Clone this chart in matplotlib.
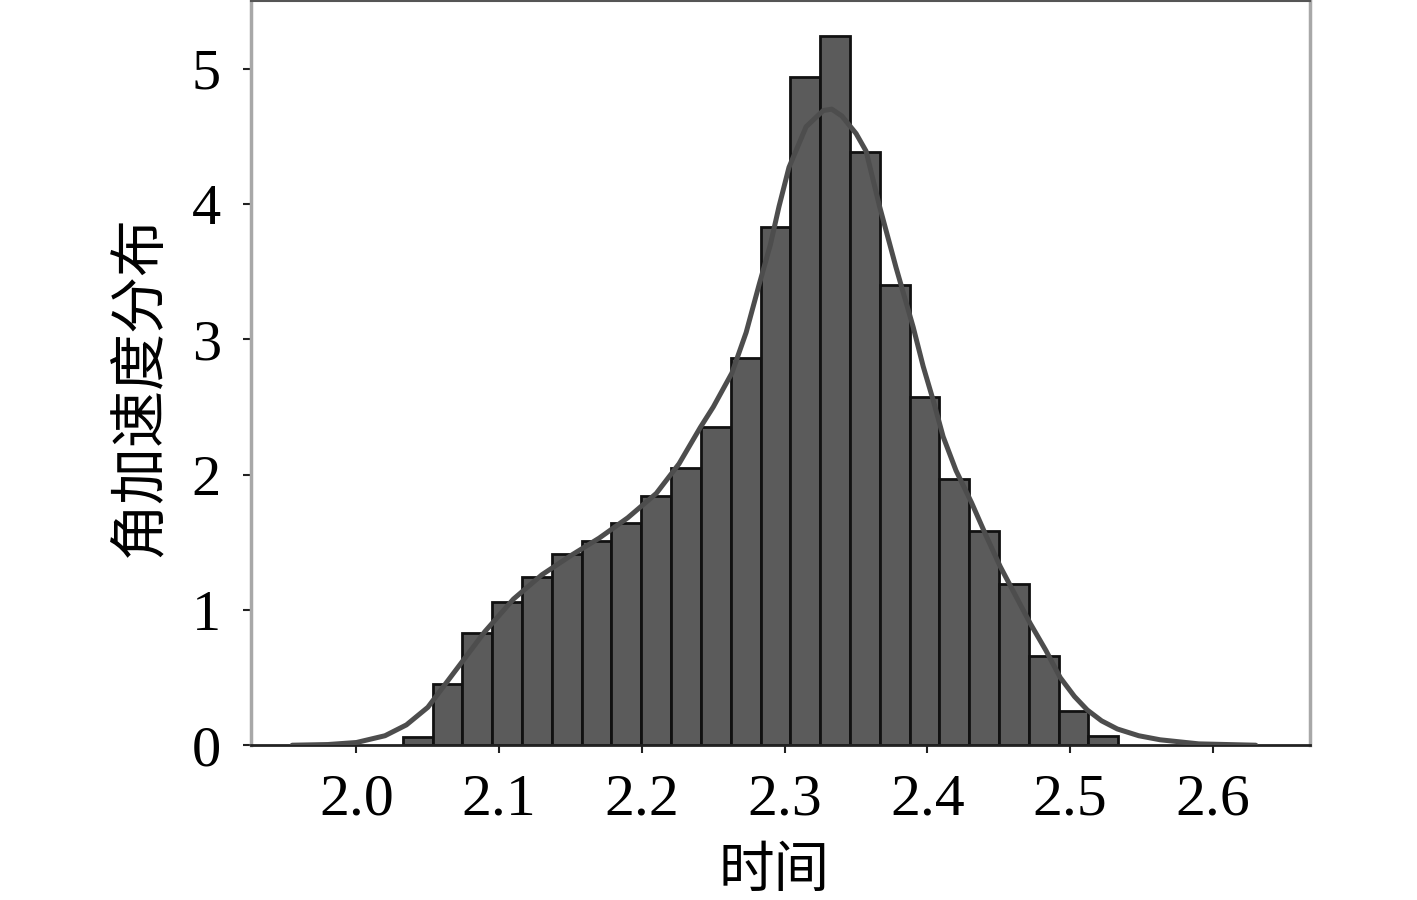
import matplotlib

matplotlib.use("Agg", force=True)
import matplotlib.pyplot as plt
import numpy as np

plt.rcParams["font.family"] = ["Liberation Serif", "Noto Sans CJK SC", "DejaVu Sans"]

# Histogram: left edge of first bin, bin width, bar heights (density)
bin_start = 2.0325
bin_width = 0.02088
bar_heights = [0.06, 0.45, 0.83, 1.06, 1.24, 1.41, 1.51, 1.64, 1.84, 2.05,
               2.35, 2.86, 3.83, 4.94, 5.24, 4.38, 3.40, 2.57, 1.97, 1.58,
               1.19, 0.66, 0.25, 0.07]

# Density curve
curve_x = [1.955, 1.98, 2.00, 2.02, 2.035, 2.05, 2.07, 2.09, 2.11, 2.13,
           2.15, 2.17, 2.19, 2.21, 2.226, 2.241, 2.25, 2.263, 2.273, 2.282,
           2.29, 2.296, 2.303, 2.315, 2.327, 2.333, 2.34, 2.35, 2.357, 2.3665,
           2.378, 2.39, 2.397, 2.404, 2.411, 2.42, 2.431, 2.441, 2.451, 2.462,
           2.472, 2.483, 2.493, 2.503, 2.512, 2.522, 2.533, 2.548, 2.563, 2.59,
           2.63]
curve_y = [0.0, 0.005, 0.02, 0.07, 0.15, 0.28, 0.56, 0.84, 1.08, 1.26,
           1.40, 1.53, 1.68, 1.86, 2.08, 2.35, 2.50, 2.75, 3.05, 3.40,
           3.70, 3.98, 4.27, 4.57, 4.69, 4.70, 4.65, 4.52, 4.39, 3.98,
           3.53, 3.09, 2.80, 2.55, 2.28, 2.03, 1.79, 1.55, 1.32, 1.10,
           0.90, 0.70, 0.50, 0.36, 0.26, 0.18, 0.12, 0.07, 0.04, 0.01,
           0.0]

x_ticks = [2.0, 2.1, 2.2, 2.3, 2.4, 2.5, 2.6]
y_ticks = [0, 1, 2, 3, 4, 5]
x_label = "时间"
y_label = "角加速度分布"

fig = plt.figure(figsize=(14.17, 9.0), dpi=100)
ax = fig.add_axes([0.177, 0.172, 0.7475, 0.827])

lefts = bin_start + bin_width * np.arange(len(bar_heights))
ax.bar(lefts, bar_heights, width=bin_width, align="edge",
       color="#5b5b5b", edgecolor="#111111", linewidth=2.0, zorder=2)
ax.plot(curve_x, curve_y, color="#4d4d4d", linewidth=3.6, zorder=3,
        solid_capstyle="round", solid_joinstyle="round")

ax.set_xlim(1.926, 2.668)
ax.set_ylim(0, 5.5)
ax.set_xticks(x_ticks)
ax.set_xticklabels([f"{v:.1f}" for v in x_ticks])
ax.set_yticks(y_ticks)

ax.tick_params(axis="both", direction="out", length=5.5, width=1.5,
               color="#222222", labelsize=42)
ax.tick_params(axis="x", pad=15, labelsize=43)
ax.tick_params(axis="y", pad=16)

ax.spines["left"].set_color("#a8a8a8")
ax.spines["left"].set_linewidth(2.5)
ax.spines["right"].set_color("#a8a8a8")
ax.spines["right"].set_linewidth(2.5)
ax.spines["top"].set_color("#555555")
ax.spines["top"].set_linewidth(1.5)
ax.spines["bottom"].set_color("#222222")
ax.spines["bottom"].set_linewidth(2.0)

ax.set_xlabel(x_label, family=["Noto Sans CJK SC"], fontsize=40, va="center")
ax.xaxis.set_label_coords(0.4938, -0.1694)
ax.set_ylabel(y_label, family=["Noto Sans CJK SC"], fontsize=41, va="center")
ax.yaxis.set_label_coords(-0.1048, 0.4825)

fig.savefig("out.png", dpi=100)
